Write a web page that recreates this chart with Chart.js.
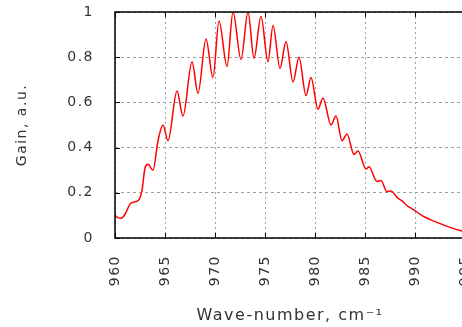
<!DOCTYPE html>
<html>
<head>
<meta charset="utf-8">
<script src="https://cdn.jsdelivr.net/npm/chart.js@4/dist/chart.umd.min.js"></script>
<style>
  html, body { margin: 0; padding: 0; background: #fff; overflow: hidden; }
  #wrap { width: 462px; height: 327px; overflow: hidden; }
  #box { width: 470px; height: 327px; }
</style>
</head>
<body>
<div id="wrap"><div id="box"><canvas id="gain"></canvas></div></div>
<script>
// gain spectrum (peaks and dips)
const waveNumber = [
  960.0, 960.3, 960.6, 961.0, 961.5, 962.0, 962.4, 962.7, 963.0, 963.3,
  963.8, 964.3, 964.8, 965.3, 966.2, 966.8, 967.7, 968.3, 969.1, 969.8,
  970.4, 971.2, 971.8, 972.6, 973.3, 973.9, 974.6, 975.3, 975.8, 976.5,
  977.1, 977.8, 978.4, 979.1, 979.6, 980.3, 980.8, 981.6, 982.1, 982.7,
  983.2, 983.9, 984.3, 985.1, 985.4, 986.2, 986.6, 987.2, 987.6, 988.2,
  988.7, 989.3, 989.8, 990.8, 992.2, 993.5, 994.7, 995.0
];
const gain = [
  0.100, 0.090, 0.087, 0.105, 0.150, 0.160, 0.170, 0.210, 0.310, 0.326,
  0.300, 0.430, 0.500, 0.430, 0.650, 0.540, 0.780, 0.640, 0.880, 0.710,
  0.960, 0.760, 1.000, 0.790, 1.000, 0.795, 0.980, 0.780, 0.940, 0.750,
  0.870, 0.690, 0.800, 0.630, 0.710, 0.570, 0.620, 0.500, 0.540, 0.430,
  0.460, 0.370, 0.385, 0.305, 0.315, 0.250, 0.254, 0.205, 0.208, 0.180,
  0.164, 0.140, 0.127, 0.097, 0.069, 0.047, 0.031, 0.028
];
const xTicks = [960, 965, 970, 975, 980, 985, 990, 995];
const yTicks = [0, 0.2, 0.4, 0.6, 0.8, 1];

const points = waveNumber.map((w, i) => ({ x: w, y: gain[i] }));

// gnuplot-ish spacing of letters
const spacing = {
  id: "spacing",
  beforeLayout(chart) { chart.ctx.letterSpacing = "1.5px"; },
  beforeDraw(chart) { chart.ctx.letterSpacing = "1.5px"; }
};

// frame and inward tick marks
const frame = {
  id: "frame",
  afterDraw(chart) {
    const ctx = chart.ctx;
    const a = chart.chartArea;
    const xs = chart.scales.x;
    const ys = chart.scales.y;
    ctx.save();
    ctx.strokeStyle = "#000";
    ctx.lineWidth = 1.5;
    ctx.strokeRect(a.left, a.top, a.right - a.left, a.bottom - a.top);
    ctx.lineWidth = 1;
    ctx.beginPath();
    xTicks.forEach(v => {
      const px = Math.round(xs.getPixelForValue(v)) + 0.5;
      ctx.moveTo(px, a.bottom); ctx.lineTo(px, a.bottom - 5);
      ctx.moveTo(px, a.top); ctx.lineTo(px, a.top + 5);
    });
    yTicks.forEach(v => {
      const py = Math.round(ys.getPixelForValue(v)) + 0.5;
      ctx.moveTo(a.left, py); ctx.lineTo(a.left + 5, py);
    });
    ctx.stroke();
    ctx.restore();
  }
};

const data = {
  datasets: [{
    data: points,
    borderColor: "#ff0000",
    borderWidth: 1.5,
    pointRadius: 0,
    cubicInterpolationMode: "monotone",
    fill: false
  }]
};

const config = {
  type: "line",
  data: data,
  options: {
    responsive: true,
    maintainAspectRatio: false,
    animation: false,
    layout: { padding: { top: 12, right: 5, bottom: 0, left: 0 } },
    plugins: { legend: { display: false }, tooltip: { enabled: false } },
    scales: {
      x: {
        type: "linear",
        min: 960,
        max: 995,
        afterBuildTicks(scale) { scale.ticks = xTicks.map(v => ({ value: v })); },
        afterFit(scale) { scale.height = 89; scale.paddingRight = 0; scale.paddingLeft = 0; },
        border: { display: false, dash: [2, 3] },
        grid: { color: "#a0a0a0", drawTicks: false },
        ticks: {
          minRotation: 90, maxRotation: 90, padding: 17,
          color: "#333", font: { family: "DejaVu Sans", size: 14 },
          callback: v => String(v)
        },
        title: {
          display: true, text: "Wave-number, cm\u207B\u00B9",
          color: "#333", font: { family: "DejaVu Sans", size: 16 },
          padding: { top: 0, bottom: 2 }
        }
      },
      y: {
        min: 0,
        max: 1,
        afterBuildTicks(scale) { scale.ticks = yTicks.map(v => ({ value: v })); },
        afterFit(scale) { scale.width = 115; scale.paddingTop = 0; scale.paddingBottom = 0; },
        border: { display: false, dash: [3, 3] },
        grid: { color: "#a0a0a0", drawTicks: false },
        ticks: {
          padding: 21,
          color: "#333", font: { family: "DejaVu Sans", size: 14 },
          callback: v => String(v)
        },
        title: {
          display: true, text: "Gain, a.u.",
          color: "#333", font: { family: "DejaVu Sans", size: 14 },
          padding: { top: 14, bottom: 0 }
        }
      }
    }
  },
  plugins: [spacing, frame]
};

const chart1 = new Chart(document.getElementById("gain"), config);
</script>
</body>
</html>
